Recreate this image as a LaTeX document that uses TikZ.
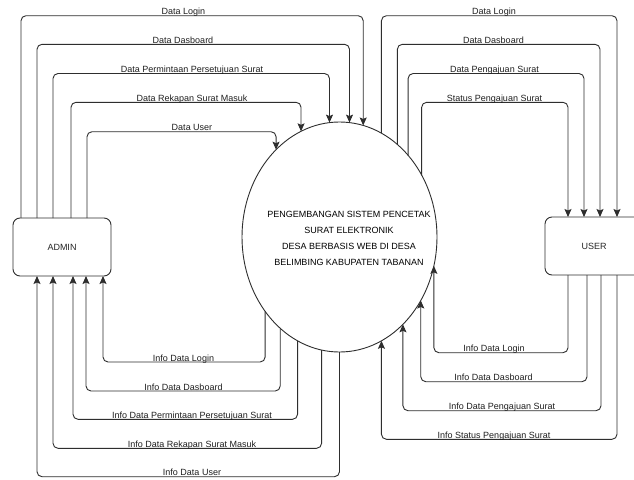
\documentclass[tikz,border=0pt]{standalone}
\usepackage{fontspec}
\setmainfont{Liberation Sans}
\usetikzlibrary{shapes.geometric,arrows.meta}
\tikzset{
  ln/.style={draw=black!82, line width=0.9pt, rounded corners=5pt},
  arr/.style={ln, -{Stealth[length=8pt,width=7pt,inset=1.5pt]}},
  entity/.style={draw=black!82, line width=0.9pt, rounded corners=7pt, minimum width=98pt, minimum height=58pt, inner sep=0pt, outer sep=0pt, font=\fontsize{9}{10}\selectfont, text=black!85},
  proc/.style={ellipse, draw=black!82, line width=0.9pt, minimum width=195pt, minimum height=230pt, inner sep=0pt, outer sep=0pt},
  lbl/.style={font=\fontsize{9}{10}\selectfont, text=black!88, anchor=base, inner sep=0pt}
}
\begin{document}
\begin{tikzpicture}[x=1pt,y=-1pt]
\clip (0,0) rectangle (634,479);
\fill[white] (0,0) rectangle (634,479);

% entities and process
\node[entity] (A) at (62,247) {ADMIN};
\node[entity] (U) at (594,246) {USER};
\node[proc] (P) at (339.5,237) {};
\node[align=center, font=\fontsize{9}{16}\selectfont, text=black] (PT) at (349,238)
  {PENGEMBANGAN SISTEM PENCETAK\\SURAT ELEKTRONIK\\DESA BERBASIS WEB DI DESA\\BELIMBING KABUPATEN TABANAN};

% row heights
\coordinate (r1) at (0,15.7);
\coordinate (r2) at (0,44.3);
\coordinate (r3) at (0,73.5);
\coordinate (r4) at (0,102.3);
\coordinate (r5) at (0,131.7);
\coordinate (b1) at (0,362);
\coordinate (b2) at (0,391);
\coordinate (b3) at (0,419.3);
\coordinate (b4) at (0,448.3);
\coordinate (b5) at (0,476.7);
\coordinate (c1) at (0,352.7);
\coordinate (c2) at (0,381.7);
\coordinate (c3) at (0,410.7);
\coordinate (c4) at (0,439.3);

% attachment points on the boxes
\coordinate (At1) at ([xshift=8pt]A.north west);
\coordinate (At2) at ([xshift=24pt]A.north west);
\coordinate (At3) at ([xshift=40pt]A.north west);
\coordinate (At4) at ([xshift=58pt]A.north west);
\coordinate (At5) at ([xshift=74pt]A.north west);
\coordinate (Ab1) at ([xshift=24pt]A.south west);
\coordinate (Ab2) at ([xshift=40pt]A.south west);
\coordinate (Ab3) at ([xshift=60pt]A.south west);
\coordinate (Ab4) at ([xshift=73pt]A.south west);
\coordinate (Ab5) at ([xshift=90pt]A.south west);
\coordinate (Ut1) at ([xshift=72pt]U.north west);
\coordinate (Ut2) at ([xshift=55pt]U.north west);
\coordinate (Ut3) at ([xshift=39pt]U.north west);
\coordinate (Ut4) at ([xshift=23pt]U.north west);
\coordinate (Ub1) at ([xshift=23pt]U.south west);
\coordinate (Ub2) at ([xshift=42pt]U.south west);
\coordinate (Ub3) at ([xshift=56pt]U.south west);
\coordinate (Ub4) at ([xshift=72pt]U.south west);

% ADMIN -> process
\draw[arr] (At1) |- (P.78.1 |- r1) -- (P.78.1);
\draw[arr] (At2) |- (P.85.8 |- r2) -- (P.85.8);
\draw[arr] (At3) |- (P.95.2 |- r3) -- (P.95.2);
\draw[arr] (At4) |- (P.110.6 |- r4) -- (P.110.6);
\draw[arr] (At5) |- (P.126.8 |- r5) -- (P.126.8);
\node[lbl] (l1) at (183.5,14.7) {Data Login};
\node[lbl] (l2) at (183,43.3) {Data Dasboard};
\node[lbl] (l3) at (192,72.5) {Data Permintaan Persetujuan Surat};
\node[lbl] (l4) at (192,101.3) {Data Rekapan Surat Masuk};
\node[lbl] (l5) at (192,130.7) {Data User};

% process -> USER
\draw[arr] (P.68.8) |- (Ut1 |- r1) -- (Ut1);
\draw[arr] (P.58.25) |- (Ut2 |- r2) -- (Ut2);
\draw[arr] (P.50.06) |- (Ut3 |- r3) -- (Ut3);
\draw[arr] (P.37.75) |- (Ut4 |- r4) -- (Ut4);
\node[lbl] (m1) at (494,14.7) {Data Login};
\node[lbl] (m2) at (493.5,43.3) {Data Dasboard};
\node[lbl] (m3) at (494.5,72.5) {Data Pengajuan Surat};
\node[lbl] (m4) at (494.5,101.3) {Status Pengajuan Surat};

% process -> ADMIN
\draw[arr] (P.225.8) |- (Ab5 |- b1) -- (Ab5);
\draw[arr] (P.237.55) |- (Ab4 |- b2) -- (Ab4);
\draw[arr] (P.248.26) |- (Ab3 |- b3) -- (Ab3);
\draw[arr] (P.261.7) |- (Ab2 |- b4) -- (Ab2);
\draw[arr] (P.270) |- (Ab1 |- b5) -- (Ab1);
\node[lbl] (n1) at (183.5,361) {Info Data Login};
\node[lbl] (n2) at (183.5,390) {Info Data Dasboard};
\node[lbl] (n3) at (192,418.3) {Info Data Permintaan Persetujuan Surat};
\node[lbl] (n4) at (192,447.3) {Info Data Rekapan Surat Masuk};
\node[lbl] (n5) at (192,475.7) {Info Data User};

% USER -> process
\draw[arr] (Ub1) |- (P.343.3 |- c1) -- (P.343.3);
\draw[arr] (Ub2) |- (P.322.25 |- c2) -- (P.322.25);
\draw[arr] (Ub3) |- (P.306 |- c3) -- (P.306);
\draw[arr] (Ub4) |- (P.292.9 |- c4) -- (P.292.9);
\node[lbl] (o1) at (494,351.7) {Info Data Login};
\node[lbl] (o2) at (493.5,380.7) {Info Data Dasboard};
\node[lbl] (o3) at (502,409.7) {Info Data Pengajuan Surat};
\node[lbl] (o4) at (494,438.3) {Info Status Pengajuan Surat};
\end{tikzpicture}
\end{document}
